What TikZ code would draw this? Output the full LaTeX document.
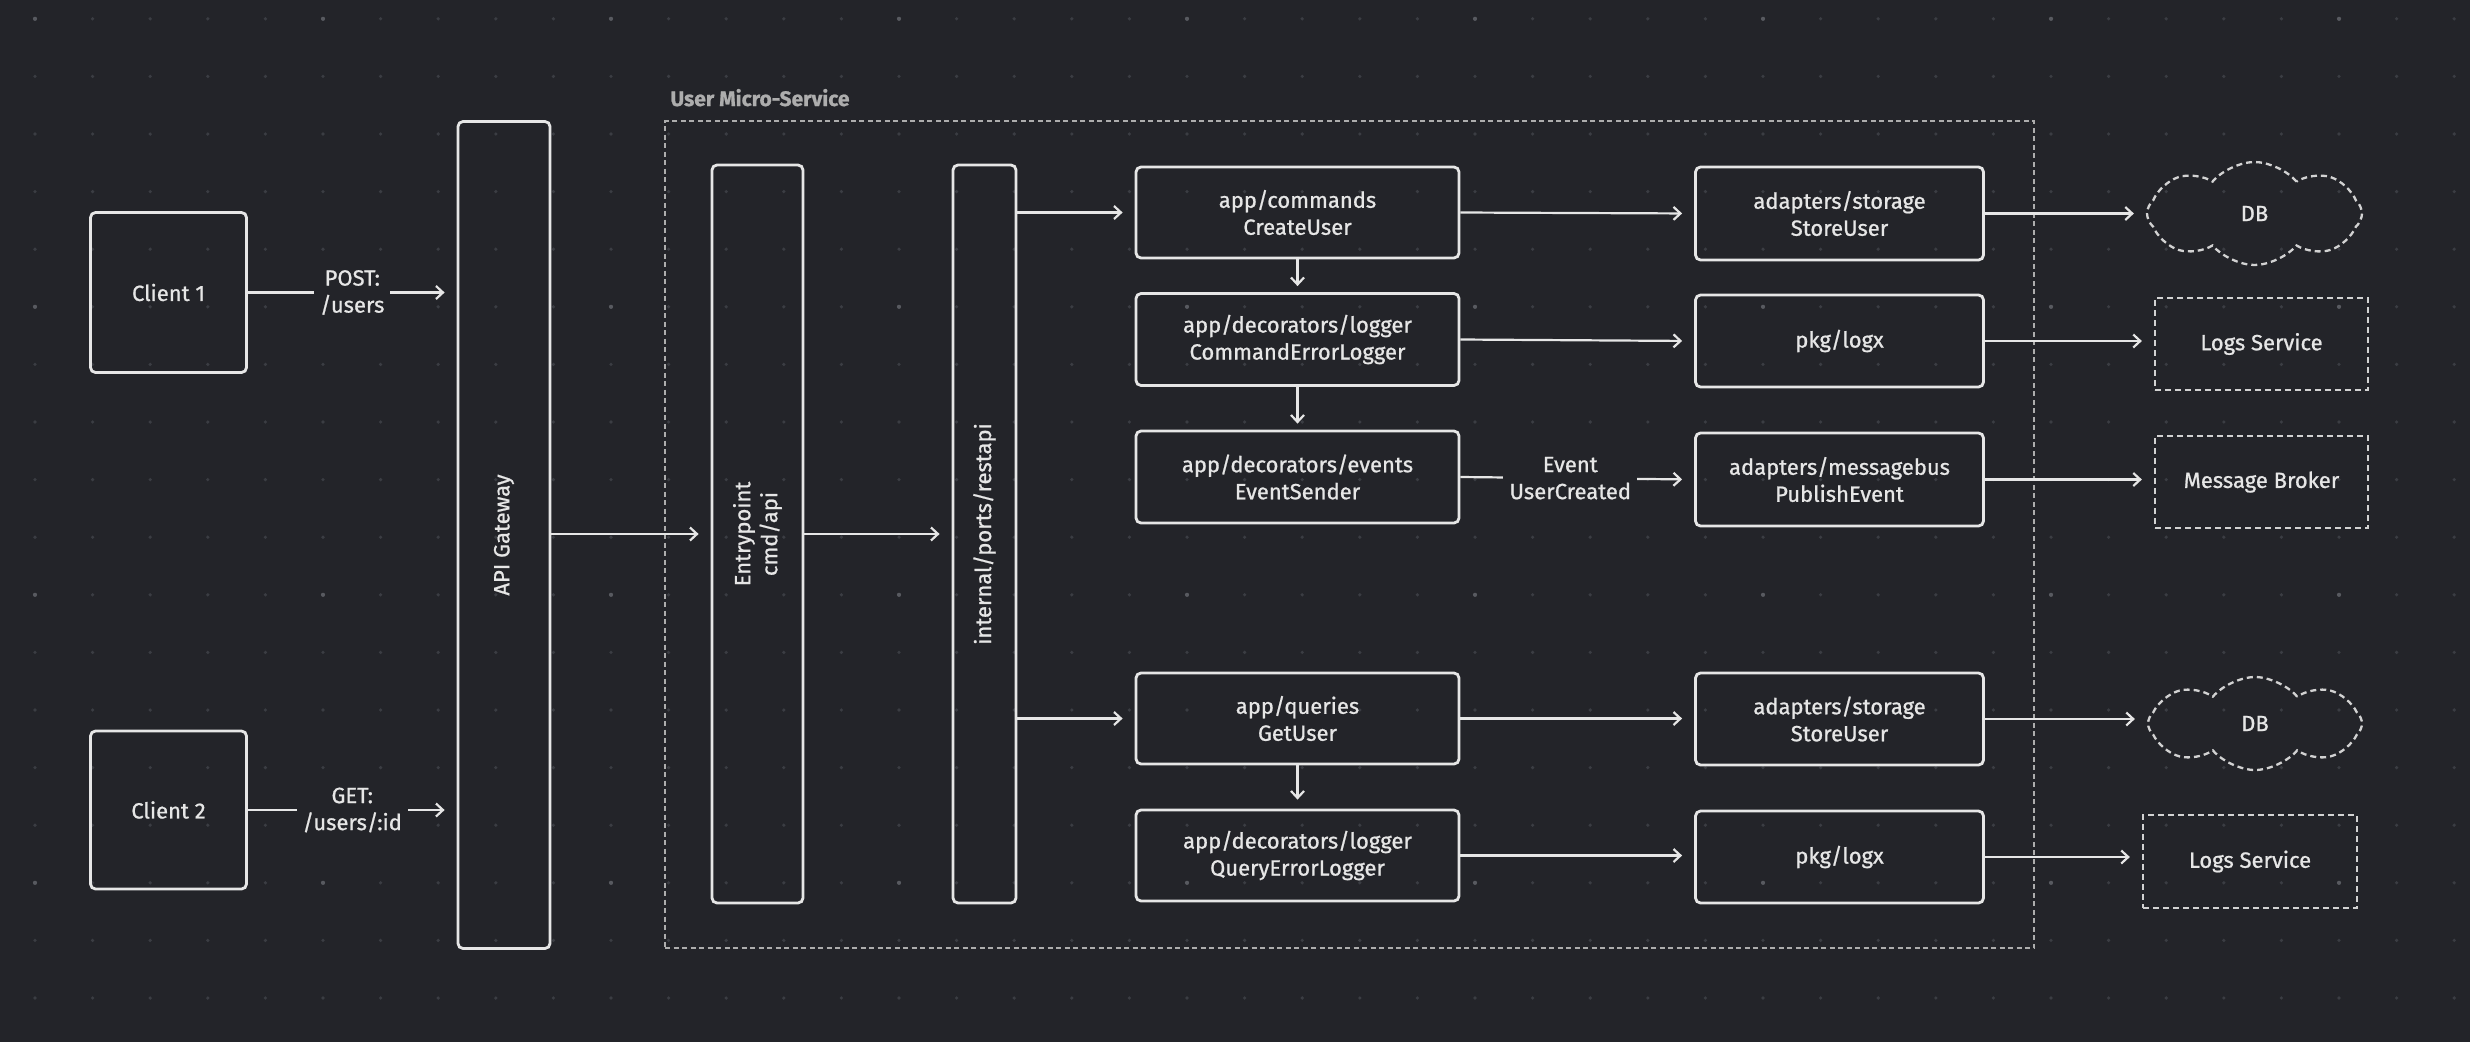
\documentclass[tikz,border=0pt]{standalone}
\usepackage{fontspec}
\setmainfont{Fira Sans}[FakeBold=0.9]
\usetikzlibrary{arrows.meta,shapes.symbols}
\definecolor{bg}{HTML}{232429}
\definecolor{ln}{HTML}{E6E6E6}
\definecolor{dim}{HTML}{3B3D43}
\definecolor{maj}{HTML}{585A60}
\definecolor{dsh}{HTML}{D2D2D2}
\definecolor{lbl}{HTML}{ADADAD}
\begin{document}
\begin{tikzpicture}[x=1pt,y=-1pt,
  every node/.style={text=ln, font=\fontsize{22}{27}\selectfont, align=center},
  box/.style={draw=ln, line width=2.8pt, rounded corners=5pt, inner sep=0pt},
  dbox/.style={draw=dsh, line width=2.3pt, dash pattern=on 6pt off 4pt, inner sep=0pt},
  cloudbox/.style={cloud, cloud puffs=8, cloud puff arc=100, cloud ignores aspect, draw=dsh, line width=2.3pt, dash pattern=on 6pt off 4pt, inner sep=0pt},
  arr/.style={draw=ln, line width=2.2pt, -{Straight Barb[length=7pt,width=13pt]}, shorten >=12pt},
  lab/.style={fill=bg, inner sep=6pt}
]
\fill[bg] (0,0) rectangle (2470,1042);
\useasboundingbox (0,0) rectangle (2470,1042);
% dot grid
\foreach \i in {0,...,42} \foreach \j in {0,...,17}
  \fill[dim] ({35+57.6*\i},{18.8+57.6*\j}) circle (1.8pt);
\foreach \i in {0,5,...,40} \foreach \j in {0,5,10,15}
  \fill[maj] ({35+57.6*\i},{18.8+57.6*\j}) circle (2.1pt);

% container
\node[draw=lbl, line width=1.8pt, dash pattern=on 5pt off 3.5pt, minimum width=1369pt, minimum height=827pt, inner sep=0pt] (ms) at (1349.5,534.5) {};
\node[anchor=base west, text=lbl, font=\fontsize{21}{24}\selectfont\bfseries] (mslabel) at (667,106) {User Micro-Service};

% clients
\node[box, minimum width=156pt, minimum height=160pt] (client1) at (168.5,292.5) {Client 1};
\node[box, minimum width=156pt, minimum height=158pt] (client2) at (168.5,810) {Client 2};

% vertical bars
\node[box, minimum width=92pt, minimum height=827pt] (gw) at (504,535) {};
\node[rotate=90] (gwt) at (gw.center) {API Gateway};
\node[box, minimum width=91pt, minimum height=738pt] (ep) at (757.5,534) {};
\node[rotate=90] (ept) at (ep.center) {Entrypoint\\cmd/api};
\node[box, minimum width=63pt, minimum height=738pt] (rest) at (984.5,534) {};
\node[rotate=90] (restt) at (rest.center) {internal/ports/restapi};

% app column
\node[box, minimum width=323pt, minimum height=91pt] (cmd) at (1297.5,212.5) {app/commands\\CreateUser};
\node[box, minimum width=323pt, minimum height=92pt] (cel) at (1297.5,339.5) {app/decorators/logger\\CommandErrorLogger};
\node[box, minimum width=323pt, minimum height=92pt] (evs) at (1297.5,477) {app/decorators/events\\EventSender};
\node[box, minimum width=323pt, minimum height=91pt] (qry) at (1297.5,718.5) {app/queries\\GetUser};
\node[box, minimum width=323pt, minimum height=91pt] (qel) at (1297.5,855.5) {app/decorators/logger\\QueryErrorLogger};

% adapters column
\node[box, minimum width=288pt, minimum height=93pt] (st1) at (1839.5,213.5) {adapters/storage\\StoreUser};
\node[box, minimum width=288pt, minimum height=92pt] (lg1) at (1839.5,341) {pkg/logx};
\node[box, minimum width=288pt, minimum height=93pt] (mb) at (1839.5,479.5) {adapters/messagebus\\PublishEvent};
\node[box, minimum width=288pt, minimum height=92pt] (st2) at (1839.5,719) {adapters/storage\\StoreUser};
\node[box, minimum width=288pt, minimum height=92pt] (lg2) at (1839.5,857) {pkg/logx};

% external
\node[cloudbox, minimum width=215pt, minimum height=103pt] (db1) at (2254.5,213.5) {DB};
\node[dbox, minimum width=213pt, minimum height=92pt] (ls1) at (2261.5,344) {Logs Service};
\node[dbox, minimum width=213pt, minimum height=92pt] (mbk) at (2261.5,482) {Message Broker};
\node[cloudbox, minimum width=214pt, minimum height=93pt] (db2) at (2255,723.5) {DB};
\node[dbox, minimum width=214pt, minimum height=93pt] (ls2) at (2250,861.5) {Logs Service};

% connectors
\draw[arr] (client1.east) -- node[lab]{POST:\\/users} (client1.east -| gw.west);
\draw[arr] (client2.east) -- node[lab]{GET:\\/users/:id} (client2.east -| gw.west);
\draw[arr] (gw.east |- ep.west) -- (ep.west);
\draw[arr] (ep.east) -- (rest.west);
\draw[arr] (rest.east |- cmd.west) -- (cmd.west);
\draw[arr] (rest.east |- qry.west) -- (qry.west);
\draw[arr, shorten >=6pt] (cmd.south) -- (cel.north);
\draw[arr, shorten >=6pt] (cel.south) -- (evs.north);
\draw[arr, shorten >=9pt] (qry.south) -- (qel.north);
\draw[arr] (cmd.east) -- (st1.west);
\draw[arr] (cel.east) -- (lg1.west);
\draw[arr] (evs.east) -- node[lab, pos=0.47]{Event\\UserCreated} (mb.west);
\draw[arr] (qry.east) -- (qry.east -| st2.west);
\draw[arr] (qel.east) -- (qel.east -| lg2.west);
\draw[arr] (st1.east) -- (st1.east -| db1.west);
\draw[arr] (lg1.east) -- (lg1.east -| ls1.west);
\draw[arr] (mb.east) -- (mb.east -| mbk.west);
\draw[arr] (st2.east) -- (st2.east -| db2.west);
\draw[arr] (lg2.east) -- (lg2.east -| ls2.west);
\end{tikzpicture}
\end{document}
